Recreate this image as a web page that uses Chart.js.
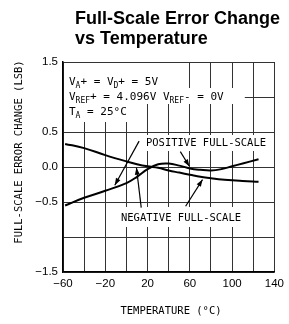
<!DOCTYPE html>
<html>
<head>
<meta charset="utf-8">
<script src="https://cdn.jsdelivr.net/npm/chart.js@4/dist/chart.umd.min.js"></script>
<style>
html, body { margin: 0; padding: 0; background: #fff; }
</style>
</head>
<body>
<canvas id="myChart" width="289" height="324"></canvas>
<script>
// data
let temps = [-58, -40, -20, 0, 10, 20, 30, 40, 50, 60, 70, 80, 90, 100, 110, 125]
let positiveFS = [-0.55, -0.44, -0.34, -0.23, -0.14, -0.03, 0.04, 0.05, 0.02, -0.02, -0.04, -0.05, -0.03, 0.01, 0.05, 0.11]
let negativeFS = [0.33, 0.27, 0.17, 0.08, 0.04, 0.01, -0.01, -0.05, -0.08, -0.11, -0.14, -0.16, -0.18, -0.19, -0.20, -0.21]

let xTickLabels = [-60, -20, 20, 60, 100, 140]
let yTickLabels = [1.5, 0.5, 0.0, -0.5, -1.5]

const mono = '"DejaVu Sans Mono", monospace'

function toPoints(ys) {
	return temps.map((t, i) => ({ x: t, y: ys[i] }))
}

function minus(v) {
	return String(v).replace('-', '\u2212')
}

// text with subscripts: parts = [[text, isSub], ...]
function drawParts(ctx, parts, x, y) {
	for (let p of parts) {
		ctx.font = p[1] ? '8px ' + mono : '11px ' + mono
		ctx.fillText(p[0], x, p[1] ? y + 3 : y)
		x += ctx.measureText(p[0]).width
	}
}

function arrow(ctx, x1, y1, x2, y2) {
	ctx.beginPath()
	ctx.moveTo(x1, y1)
	ctx.lineTo(x2, y2)
	ctx.stroke()
	let a = Math.atan2(y2 - y1, x2 - x1)
	ctx.beginPath()
	ctx.moveTo(x2, y2)
	ctx.lineTo(x2 - 7 * Math.cos(a) + 2.5 * Math.sin(a), y2 - 7 * Math.sin(a) - 2.5 * Math.cos(a))
	ctx.lineTo(x2 - 7 * Math.cos(a) - 2.5 * Math.sin(a), y2 - 7 * Math.sin(a) + 2.5 * Math.cos(a))
	ctx.closePath()
	ctx.fill()
}

const notes = {
	id: 'notes',
	beforeDatasetsDraw(chart) {
		let ctx = chart.ctx
		let xs = chart.scales.x, ys = chart.scales.y
		let X = v => xs.getPixelForValue(v), Y = v => ys.getPixelForValue(v)
		let L = chart.chartArea.left + 1
		ctx.save()
		ctx.fillStyle = '#fff'
		// blank areas behind the condition text
		ctx.fillRect(L, chart.chartArea.top + 1, X(50) - L, 88 - chart.chartArea.top)
		ctx.fillRect(L, 88, X(112) - L, 16)
		ctx.fillRect(L, 104, X(10) - L, 18)
		// blank areas behind curve labels
		ctx.fillRect(143, 135, 127, 16)
		ctx.fillRect(115, 207, 131, 20)

		ctx.fillStyle = '#000'
		ctx.textBaseline = 'alphabetic'
		ctx.textAlign = 'left'
		drawParts(ctx, [['V', 0], ['A', 1], ['+ = V', 0], ['D', 1], ['+ = 5V', 0]], 69, 85)
		drawParts(ctx, [['V', 0], ['REF', 1], ['+ = 4.096V V', 0], ['REF', 1], ['- = 0V', 0]], 69, 100)
		drawParts(ctx, [['T', 0], ['A', 1], [' = 25\u00B0C', 0]], 69, 115)

		ctx.font = '10.5px ' + mono
		ctx.textAlign = 'center'
		ctx.textBaseline = 'middle'
		ctx.fillText('POSITIVE FULL-SCALE', 206, 143)
		ctx.fillText('NEGATIVE FULL-SCALE', 181, 218)
		ctx.restore()
	},
	afterDatasetsDraw(chart) {
		let ctx = chart.ctx
		let xs = chart.scales.x, ys = chart.scales.y
		let X = v => xs.getPixelForValue(v), Y = v => ys.getPixelForValue(v)
		ctx.save()
		ctx.strokeStyle = '#000'
		ctx.fillStyle = '#000'
		ctx.lineWidth = 1.2
		arrow(ctx, X(12), Y(0.37), X(-11), Y(-0.26))
		arrow(ctx, X(51), Y(0.22), X(59.5), Y(0.01))
		arrow(ctx, X(14), Y(-0.58), X(9.5), Y(-0.01))
		arrow(ctx, X(56), Y(-0.56), X(72), Y(-0.18))
		ctx.restore()
	},
	afterDraw(chart) {
		let ctx = chart.ctx
		ctx.save()
		ctx.fillStyle = '#000'
		// title
		ctx.font = 'bold 18px "Liberation Sans", Arial, sans-serif'
		ctx.textAlign = 'left'
		ctx.textBaseline = 'alphabetic'
		ctx.fillText('Full-Scale Error Change', 75, 24)
		ctx.fillText('vs Temperature', 75, 44)
		// axis titles
		ctx.font = '10.5px ' + mono
		ctx.textAlign = 'center'
		ctx.textBaseline = 'middle'
		ctx.fillText('TEMPERATURE (\u00B0C)', 171, 311)
		ctx.translate(19, 152)
		ctx.rotate(-Math.PI / 2)
		ctx.fillText('FULL-SCALE ERROR CHANGE (LSB)', 0, 0)
		ctx.restore()
	}
}

let ctx1 = document.getElementById("myChart").getContext('2d')
var myChart = new Chart(ctx1, {
	type: 'line',
	data: {
		datasets: [{
			label: 'POSITIVE FULL-SCALE',
			data: toPoints(positiveFS),
			borderColor: '#000',
			borderWidth: 2,
			pointRadius: 0,
			tension: 0.4,
			fill: false
		}, {
			label: 'NEGATIVE FULL-SCALE',
			data: toPoints(negativeFS),
			borderColor: '#000',
			borderWidth: 2,
			pointRadius: 0,
			tension: 0.4,
			fill: false
		}]
	},
	options: {
		responsive: false,
		animation: false,
		events: [],
		layout: {
			padding: { top: 62, right: 10, bottom: 0, left: 0 }
		},
		plugins: {
			legend: { display: false },
			tooltip: { enabled: false }
		},
		scales: {
			x: {
				type: 'linear',
				min: -60,
				max: 140,
				afterFit: s => { s.height = 52 },
				ticks: {
					stepSize: 20,
					autoSkip: false,
					maxRotation: 0,
					padding: 5,
					color: '#000',
					font: { family: '"Liberation Sans", Arial, sans-serif', size: 11.5 },
					callback: v => xTickLabels.includes(v) ? minus(v) : ''
				},
				grid: { color: '#333', lineWidth: 1, drawTicks: false },
				border: { color: '#000', width: 1.5 }
			},
			y: {
				min: -1.5,
				max: 1.5,
				afterFit: s => { s.width = 63 },
				ticks: {
					stepSize: 0.5,
					autoSkip: false,
					padding: 5,
					color: '#000',
					font: { family: '"Liberation Sans", Arial, sans-serif', size: 11.5 },
					callback: v => yTickLabels.some(t => Math.abs(t - v) < 1e-6) ? minus(v.toFixed(1)) : ''
				},
				grid: { color: '#333', lineWidth: 1, drawTicks: false },
				border: { color: '#000', width: 1.5 }
			}
		}
	},
	plugins: [notes]
})
</script>
</body>
</html>
